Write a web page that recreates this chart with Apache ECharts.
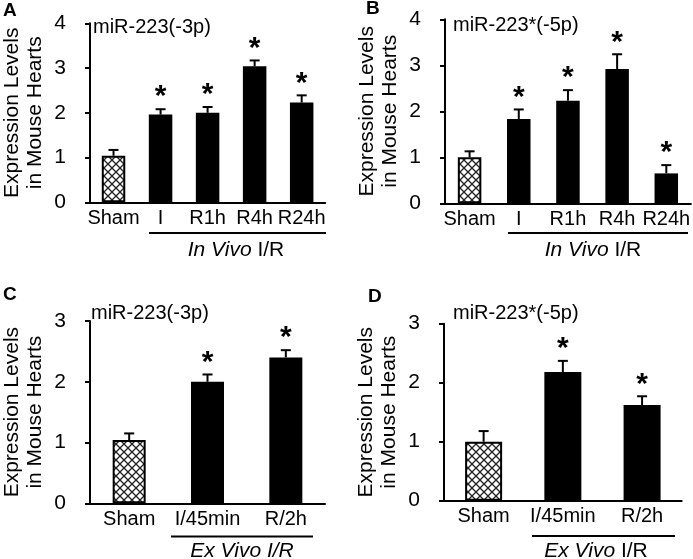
<!DOCTYPE html>
<html><head><meta charset="utf-8">
<script src="https://cdn.jsdelivr.net/npm/echarts@6/dist/echarts.min.js"></script>
<style>html,body{margin:0;padding:0;background:#fff}#c{width:693px;height:559px}</style>
</head><body><div id="c"></div>
<script>
// ---- data ----
const catsInVivo = ['Sham', 'I', 'R1h', 'R4h', 'R24h'];
const catsExVivo = ['Sham', 'I/45min', 'R/2h'];
const meanA = [1.04, 1.96, 2.00, 3.04, 2.23];
const errA  = [0.13, 0.12, 0.13, 0.13, 0.16];
const starA = [0, 1, 1, 1, 1];
const meanB = [1.00, 1.83, 2.23, 2.92, 0.65];
const errB  = [0.13, 0.21, 0.23, 0.32, 0.18];
const starB = [0, 1, 1, 1, 1];
const meanC = [1.04, 2.00, 2.40];
const errC  = [0.11, 0.12, 0.12];
const starC = [0, 1, 1];
const meanD = [1.00, 2.18, 1.62];
const errD  = [0.18, 0.19, 0.15];
const starD = [0, 1, 1];
const yMaxTop = 4, yMaxBottom = 3;
const titles = ['miR-223(-3p)', 'miR-223*(-5p)', 'miR-223(-3p)', 'miR-223*(-5p)'];
const panelLetters = ['A', 'B', 'C', 'D'];
const yName = 'Expression Levels\nin Mouse Hearts';

const FONT = 'Arial, "Liberation Sans", Helvetica, sans-serif';

function hatch() {
  const c = document.createElement('canvas'); c.width = 8; c.height = 8;
  const g = c.getContext('2d');
  g.fillStyle = '#fff'; g.fillRect(0, 0, 8, 8);
  g.strokeStyle = '#222'; g.lineWidth = 1.3;
  g.beginPath();
  g.moveTo(0, 0); g.lineTo(8, 8);
  g.moveTo(8, 0); g.lineTo(0, 8);
  g.stroke();
  return c;
}
const hatchImg = hatch();

const grids = [
  { left: 84.7, top: 23.3, width: 240.5, height: 179 },
  { left: 445, top: 19.3, width: 248, height: 184 },
  { left: 85, top: 321, width: 240, height: 182.3 },
  { left: 444, top: 323.7, width: 237.7, height: 177 }
];
const barWidths = [23.5, 23.5, 33, 37];

function xAxis(i, cats) {
  return {
    type: 'category', gridIndex: i, data: cats,
    axisLine: { lineStyle: { color: '#000', width: 2 } },
    axisTick: { show: false },
    axisLabel: { color: '#000', fontSize: 20, fontFamily: FONT, margin: 6, interval: 0 }
  };
}
function yAxis(i, max) {
  return {
    type: 'value', gridIndex: i, min: 0, max: max, interval: 1,
    name: yName, nameLocation: 'middle', nameRotate: 90, nameGap: 43,
    nameTextStyle: { color: '#000', fontSize: 21, fontFamily: FONT, lineHeight: 23 },
    axisLine: { show: true, lineStyle: { color: '#000', width: 2 } },
    axisTick: { show: true, length: 5, lineStyle: { color: '#000', width: 2 } },
    axisLabel: { color: '#000', fontSize: 21, fontFamily: FONT, margin: 24 },
    splitLine: { show: false }
  };
}
function barSeries(i, mean) {
  return {
    type: 'bar', xAxisIndex: i, yAxisIndex: i, barWidth: barWidths[i],
    animation: false,
    data: mean.map((v, k) => k === 0
      ? { value: v, itemStyle: { color: { image: hatchImg, repeat: 'repeat' }, borderColor: '#000', borderWidth: 2 } }
      : { value: v, itemStyle: { color: '#000' } })
  };
}
function errSeries(i, mean, err, star) {
  return {
    type: 'custom', xAxisIndex: i, yAxisIndex: i, z: 5, animation: false,
    data: mean.map((m, k) => [k, m, m + err[k], star[k]]),
    renderItem: function (params, api) {
      const x = api.value(0), m = api.value(1), t = api.value(2), s = api.value(3);
      const p0 = api.coord([x, m]), p1 = api.coord([x, t]);
      const ch = [
        { type: 'line', shape: { x1: p0[0], y1: p0[1], x2: p1[0], y2: p1[1] }, style: { stroke: '#000', lineWidth: 2 } },
        { type: 'line', shape: { x1: p1[0] - 5, y1: p1[1], x2: p1[0] + 5, y2: p1[1] }, style: { stroke: '#000', lineWidth: 2 } }
      ];
      if (s) ch.push({ type: 'text', style: { text: '*', x: p1[0], y: p1[1] - 12, align: 'center', verticalAlign: 'middle', fontSize: 30, fontWeight: 'bold', fontFamily: FONT, fill: '#000' } });
      return { type: 'group', children: ch };
    }
  };
}

const txt = (text, x, y, opt) => ({ type: 'text', x: x, y: y, style: Object.assign({ text: text, fill: '#000', fontSize: 20, fontFamily: FONT, align: 'left', verticalAlign: 'middle' }, opt || {}) });
const hline = (x1, x2, y) => ({ type: 'line', shape: { x1: x1, y1: y, x2: x2, y2: y }, style: { stroke: '#000', lineWidth: 2 } });
const groupLabel = (a, b, x, y, italicAll) => ({
  type: 'text', x: x, y: y,
  style: {
    text: italicAll ? '{i|' + a + ' ' + b + '}' : '{i|' + a + '}{n| ' + b + '}',
    align: 'center', verticalAlign: 'middle',
    rich: {
      i: { fontStyle: 'italic', fontSize: 21, fontFamily: FONT, fill: '#000' },
      n: { fontSize: 21, fontFamily: FONT, fill: '#000' }
    }
  }
});

const chart = echarts.init(document.getElementById('c'));
chart.setOption({
  backgroundColor: '#fff',
  animation: false,
  grid: grids,
  xAxis: [xAxis(0, catsInVivo), xAxis(1, catsInVivo), xAxis(2, catsExVivo), xAxis(3, catsExVivo)],
  yAxis: [yAxis(0, yMaxTop), yAxis(1, yMaxTop), yAxis(2, yMaxBottom), yAxis(3, yMaxBottom)],
  series: [
    barSeries(0, meanA), errSeries(0, meanA, errA, starA),
    barSeries(1, meanB), errSeries(1, meanB, errB, starB),
    barSeries(2, meanC), errSeries(2, meanC, errC, starC),
    barSeries(3, meanD), errSeries(3, meanD, errD, starD)
  ],
  graphic: [
    txt(panelLetters[0], 3, 11, { fontWeight: 'bold', fontSize: 19 }),
    txt(panelLetters[1], 366, 9, { fontWeight: 'bold', fontSize: 19 }),
    txt(panelLetters[2], 3, 295, { fontWeight: 'bold', fontSize: 19 }),
    txt(panelLetters[3], 368, 297, { fontWeight: 'bold', fontSize: 19 }),
    txt(titles[0], 93, 27),
    txt(titles[1], 453, 25),
    txt(titles[2], 91, 313),
    txt(titles[3], 453, 313),
    hline(149, 326, 233), groupLabel('In Vivo', 'I/R', 236, 250, false),
    hline(508, 688, 233), groupLabel('In Vivo', 'I/R', 593, 250, false),
    hline(171, 313, 536.5), groupLabel('Ex Vivo', 'I/R', 242, 551, true),
    hline(532, 675, 536), groupLabel('Ex Vivo', 'I/R', 596, 551, false)
  ]
});
</script></body></html>
